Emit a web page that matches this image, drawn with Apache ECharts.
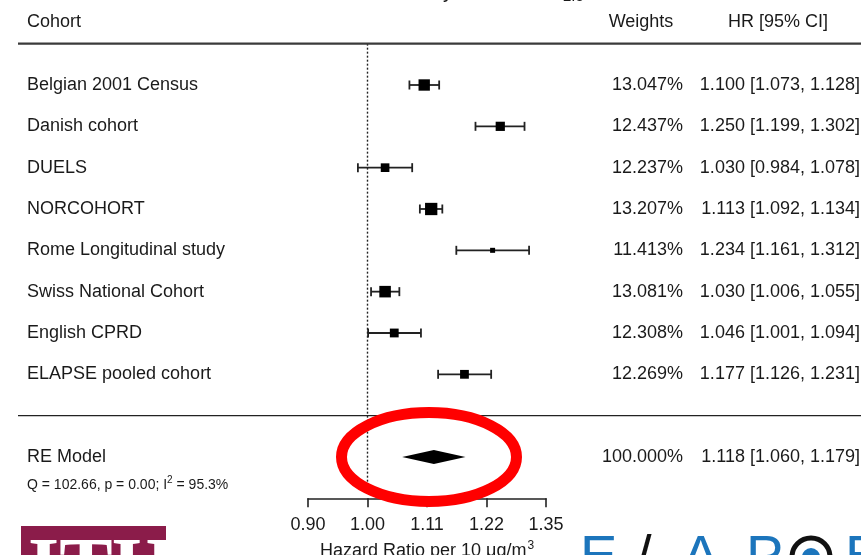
<!DOCTYPE html>
<html><head><meta charset="utf-8">
<script src="https://cdn.jsdelivr.net/npm/echarts@6/dist/echarts.min.js"></script>
<style>html,body{margin:0;padding:0;background:#fff}#c{width:861px;height:555px}</style>
</head><body><div id="c"></div>
<script>
// ---- data ----
const cohorts = ['Belgian 2001 Census','Danish cohort','DUELS','NORCOHORT','Rome Longitudinal study','Swiss National Cohort','English CPRD','ELAPSE pooled cohort'];
const hr     = [1.100, 1.250, 1.030, 1.113, 1.234, 1.030, 1.046, 1.177];
const ciLow  = [1.073, 1.199, 0.984, 1.092, 1.161, 1.006, 1.001, 1.126];
const ciHigh = [1.128, 1.302, 1.078, 1.134, 1.312, 1.055, 1.094, 1.231];
const weights = [13.047, 12.437, 12.237, 13.207, 11.413, 13.081, 12.308, 12.269];
const pooledLabel = 'RE Model';
const pooledHR = [1.118];
const pooledLow = [1.060];
const pooledHigh = [1.179];
const pooledWeight = [100.000];
const heterogeneity = 'Q = 102.66, p = 0.00; I{sup|2} = 95.3%';
const tickLabels = ['0.90','1.00','1.11','1.22','1.35'];
const headers = ['Cohort','Weights','HR [95% CI]'];

// ---- helpers ----
const FONT = "'Liberation Sans', Arial, sans-serif";
const TXT = '#1a1a1a';
const LINE = '#222';
const f3 = v => v.toFixed(3);
const ciText = (h,l,u) => f3(h) + ' [' + f3(l) + ', ' + f3(u) + ']';
function txt(t, x, y, align, size){
  return {type:'text', style:{text:t, x:x, y:y, fill:TXT, font:(size||18)+'px '+FONT,
    align:align, textAlign:align, verticalAlign:'middle', textVerticalAlign:'middle'}};
}
// square size from precision (log scale)
const prec = hr.map((h,i)=>Math.log(1/(Math.log(ciHigh[i])-Math.log(ciLow[i]))));
const pMin = Math.min(...prec), pMax = Math.max(...prec);
const sqSize = prec.map(p => 5 + Math.sqrt((p - pMin)/(pMax - pMin)) * 7.3);

const rowData = cohorts.map((c,i)=>[Math.log(hr[i]), i, Math.log(ciLow[i]), Math.log(ciHigh[i]), i]);
const pooledRow = 9;
const pooledData = [[Math.log(pooledHR[0]), pooledRow, Math.log(pooledLow[0]), Math.log(pooledHigh[0]), 0]];

const chart = echarts.init(document.getElementById('c'), null, {renderer:'canvas'});

function renderRow(params, api){
  const i = api.value(4);
  const y = api.coord([0, api.value(1)])[1];
  const xc = api.coord([api.value(0), 0])[0];
  const xl = api.coord([api.value(2), 0])[0];
  const xh = api.coord([api.value(3), 0])[0];
  const s = sqSize[i];
  const ls = {stroke:LINE, lineWidth:1.8};
  return {type:'group', children:[
    {type:'line', shape:{x1:xl,y1:y,x2:xh,y2:y}, style:ls},
    {type:'line', shape:{x1:xl,y1:y-4.5,x2:xl,y2:y+4.5}, style:ls},
    {type:'line', shape:{x1:xh,y1:y-4.5,x2:xh,y2:y+4.5}, style:ls},
    {type:'rect', shape:{x:xc-s/2,y:y-s/2,width:s,height:s}, style:{fill:'#000'}},
    txt(cohorts[i], 27, y, 'left'),
    txt(f3(weights[i])+'%', 683, y, 'right'),
    txt(ciText(hr[i], ciLow[i], ciHigh[i]), 860, y, 'right')
  ]};
}
function renderPooled(params, api){
  const y = api.coord([0, api.value(1)])[1];
  const xc = api.coord([api.value(0), 0])[0];
  const xl = api.coord([api.value(2), 0])[0];
  const xh = api.coord([api.value(3), 0])[0];
  const x0 = api.coord([0, 0])[0];
  const yTop = api.coord([0, -1])[1];
  const yBot = api.coord([0, 9.6])[1];
  const yLine = api.coord([0, 8])[1];
  const h = 7;
  return {type:'group', children:[
    {type:'line', shape:{x1:x0,y1:yTop,x2:x0,y2:yBot}, style:{stroke:LINE, lineWidth:1.4, lineDash:[2,2]}},
    {type:'line', shape:{x1:18,y1:yTop,x2:861,y2:yTop}, style:{stroke:'#3a3a3a', lineWidth:2.2}},
    {type:'line', shape:{x1:18,y1:yLine,x2:861,y2:yLine}, style:{stroke:LINE, lineWidth:1.4}},
    {type:'polygon', shape:{points:[[xl,y],[xc,y-h],[xh,y],[xc,y+h]]}, style:{fill:'#000'}},
    txt(pooledLabel, 27, y, 'left'),
    {type:'text', style:{text:heterogeneity, x:27, y:y+28, fill:TXT, font:'14px '+FONT,
      align:'left', textAlign:'left', verticalAlign:'middle', textVerticalAlign:'middle',
      rich:{sup:{fontSize:10, fontFamily:FONT, fill:TXT, padding:[0,0,9,0]}}}},
    txt(f3(pooledWeight[0])+'%', 683, y, 'right'),
    txt(ciText(pooledHR[0], pooledLow[0], pooledHigh[0]), 860, y, 'right')
  ]};
}

const option = {
  animation:false,
  backgroundColor:'#fff',
  grid:{left:308, right:315, top:43.67, bottom:56.7, containLabel:false, outerBoundsMode:'none'},
  xAxis:{type:'value', min:-0.1, max:0.3, interval:0.1,
    axisLine:{show:true, onZero:false, lineStyle:{color:LINE, width:1.6}},
    axisTick:{show:true, inside:false, length:9, lineStyle:{color:LINE, width:1.6}},
    axisLabel:{show:true, margin:18, color:TXT, fontSize:18, fontFamily:FONT, showMinLabel:true, showMaxLabel:true,
      formatter:v => tickLabels[Math.round((v + 0.1)/0.1)]},
    splitLine:{show:false},
    name:'Hazard Ratio per 10 \u03bcg/m{sup|3}', nameLocation:'middle', nameGap:40,
    nameTextStyle:{color:TXT, fontSize:18, fontFamily:FONT,
      rich:{sup:{fontSize:12, fontFamily:FONT, color:TXT, padding:[0,0,12,1]}}}
  },
  yAxis:{type:'value', min:-1, max:10, inverse:true, show:false},
  series:[
    {type:'custom', name:'cohorts', renderItem:renderRow, data:rowData, clip:false,
      encode:{x:0, y:1}, silent:true},
    {type:'custom', name:'pooled', renderItem:renderPooled, data:pooledData, clip:false,
      encode:{x:0, y:1}, silent:true}
  ],
  graphic:[
    // header
    {type:'text', style:{text:headers[0], x:27, y:22, fill:TXT, font:'18px '+FONT, textAlign:'left', align:'left', textVerticalAlign:'middle', verticalAlign:'middle'}},
    {type:'text', style:{text:headers[1], x:641, y:22, fill:TXT, font:'18px '+FONT, textAlign:'center', align:'center', textVerticalAlign:'middle', verticalAlign:'middle'}},
    {type:'text', style:{text:headers[2], x:778, y:22, fill:TXT, font:'18px '+FONT, textAlign:'center', align:'center', textVerticalAlign:'middle', verticalAlign:'middle'}},
    // cut-off title fragments
    {type:'text', style:{text:'Mortality', x:453, y:-8, fill:TXT, font:'20px '+FONT, textAlign:'right', align:'right', textVerticalAlign:'middle', verticalAlign:'middle'}},
    {type:'text', style:{text:'and PM', x:562, y:-8, fill:TXT, font:'20px '+FONT, textAlign:'right', align:'right', textVerticalAlign:'middle', verticalAlign:'middle'}},
    {type:'text', style:{text:'2.5', x:563, y:-3, fill:TXT, font:'15px '+FONT, textAlign:'left', align:'left', textVerticalAlign:'middle', verticalAlign:'middle'}},
    // red annotation ellipse
    {type:'ellipse', shape:{cx:429, cy:457, rx:87.5, ry:44.5}, style:{fill:'none', stroke:'#ff0000', lineWidth:11}, z:100},
    // left logo
    {type:'rect', shape:{x:21, y:526, width:145, height:40}, style:{fill:'#8b1c4a'}},
    {type:'text', style:{text:'ITH', x:28, y:532, fill:'#fff', font:'bold 80px "Liberation Serif", serif', textAlign:'left', align:'left', textVerticalAlign:'top', verticalAlign:'top'}},
    // right logo (ELAPSE)
    {type:'text', style:{text:'E', x:580, y:531, fill:'#1c75bc', font:'56px '+FONT, textAlign:'left', align:'left', textVerticalAlign:'top', verticalAlign:'top'}},
    {type:'text', style:{text:'/', x:636, y:531, fill:'#111', font:'56px '+FONT, textAlign:'left', align:'left', textVerticalAlign:'top', verticalAlign:'top'}},
    {type:'text', style:{text:'A', x:682, y:531, fill:'#1c75bc', font:'56px '+FONT, textAlign:'left', align:'left', textVerticalAlign:'top', verticalAlign:'top'}},
    {type:'text', style:{text:'P', x:746, y:531, fill:'#1c75bc', font:'56px '+FONT, textAlign:'left', align:'left', textVerticalAlign:'top', verticalAlign:'top'}},
    {type:'circle', shape:{cx:811, cy:557, r:19}, style:{fill:'none', stroke:'#111', lineWidth:5}},
    {type:'circle', shape:{cx:811, cy:557, r:9}, style:{fill:'#1c75bc'}},
    {type:'text', style:{text:'E', x:845, y:531, fill:'#1c75bc', font:'56px '+FONT, textAlign:'left', align:'left', textVerticalAlign:'top', verticalAlign:'top'}}
  ]
};
chart.setOption(option);
</script></body></html>
